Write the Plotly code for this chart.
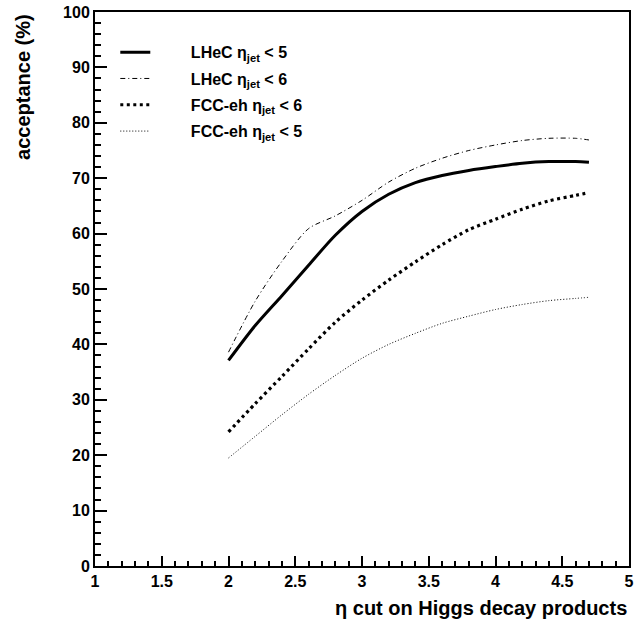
import plotly.graph_objects as go

x_vals = [2.0, 2.2, 2.4, 2.6, 2.8, 3.0, 3.2, 3.4, 3.6, 3.8, 4.0, 4.2, 4.4, 4.6, 4.7]
lhec_eta5 = [37.1, 43.4, 48.8, 54.3, 59.7, 64.0, 67.1, 69.2, 70.5, 71.4, 72.1, 72.7, 73.0, 73.0, 72.9]
lhec_eta6 = [38.6, 47.8, 55.0, 60.9, 63.2, 66.0, 69.3, 71.8, 73.6, 75.0, 76.0, 76.8, 77.2, 77.2, 76.9]
fcc_eta6 = [24.2, 29.3, 34.2, 39.2, 44.0, 48.0, 51.6, 54.9, 58.0, 60.7, 62.6, 64.4, 65.9, 66.9, 67.4]
fcc_eta5 = [19.5, 23.4, 27.3, 31.0, 34.4, 37.5, 40.0, 42.0, 43.8, 45.1, 46.3, 47.2, 47.9, 48.3, 48.5]

names = ["LHeC η<sub>jet</sub> < 5", "LHeC η<sub>jet</sub> < 6",
         "FCC-eh η<sub>jet</sub> < 6", "FCC-eh η<sub>jet</sub> < 5"]
series = [lhec_eta5, lhec_eta6, fcc_eta6, fcc_eta5]
styles = [dict(width=3, dash="solid"),
          dict(width=1, dash="5px,3px,1px,3px"),
          dict(width=3.2, dash="3px,3.5px"),
          dict(width=1, dash="1px,2px")]

pad = "\u00a0" * 8
fig = go.Figure()
for i, (nm, ys, st) in enumerate(zip(names, series, styles)):
    fig.add_trace(go.Scatter(x=x_vals, y=ys, mode="lines", name=pad + nm,
                             legendgroup=f"g{i}",
                             line=dict(color="black", shape="spline", smoothing=0.8, **st)))

font = dict(family="Liberation Sans, Arial, sans-serif", color="black", weight="bold")
fig.update_layout(
    width=638, height=619,
    margin=dict(l=95, r=4, t=11, b=53),
    paper_bgcolor="white", plot_bgcolor="white",
    font=dict(size=16, **font),
    showlegend=True,
    legend=dict(x=0.038, y=0.958, xanchor="left", yanchor="top",
                bgcolor="rgba(0,0,0,0)", font=dict(size=16, **font),
                tracegroupgap=2.5, itemwidth=30),
    xaxis=dict(range=[1, 5], showgrid=False, zeroline=False,
               showline=True, linecolor="black", linewidth=2, mirror=True,
               ticks="inside", ticklen=10, tickwidth=1.5, tickcolor="black",
               tick0=1, dtick=0.5, tickfont=dict(size=16, **font),
               minor=dict(ticks="inside", ticklen=5, dtick=0.1, tickcolor="black", tickwidth=1.5)),
    yaxis=dict(range=[0, 100], showgrid=False, zeroline=False,
               showline=True, linecolor="black", linewidth=2, mirror=True,
               ticks="inside", ticklen=12, tickwidth=1.5, tickcolor="black",
               tick0=0, dtick=10, tickfont=dict(size=16, **font),
               minor=dict(ticks="inside", ticklen=6, dtick=2, tickcolor="black", tickwidth=1.5)),
    annotations=[
        dict(text="η cut on Higgs decay products", xref="paper", yref="paper",
             x=1.0, y=-0.052, xanchor="right", yanchor="top", showarrow=False,
             font=dict(size=20, **font)),
        dict(text="acceptance (%)", xref="paper", yref="paper", textangle=-90,
             x=-0.135, y=1.0, xanchor="center", yanchor="top", showarrow=False,
             font=dict(size=20, **font)),
    ],
)
fig.write_html("out.html", config={"displayModeBar": False},
               post_script="document.body.style.margin='0';document.body.style.overflow='hidden';")
